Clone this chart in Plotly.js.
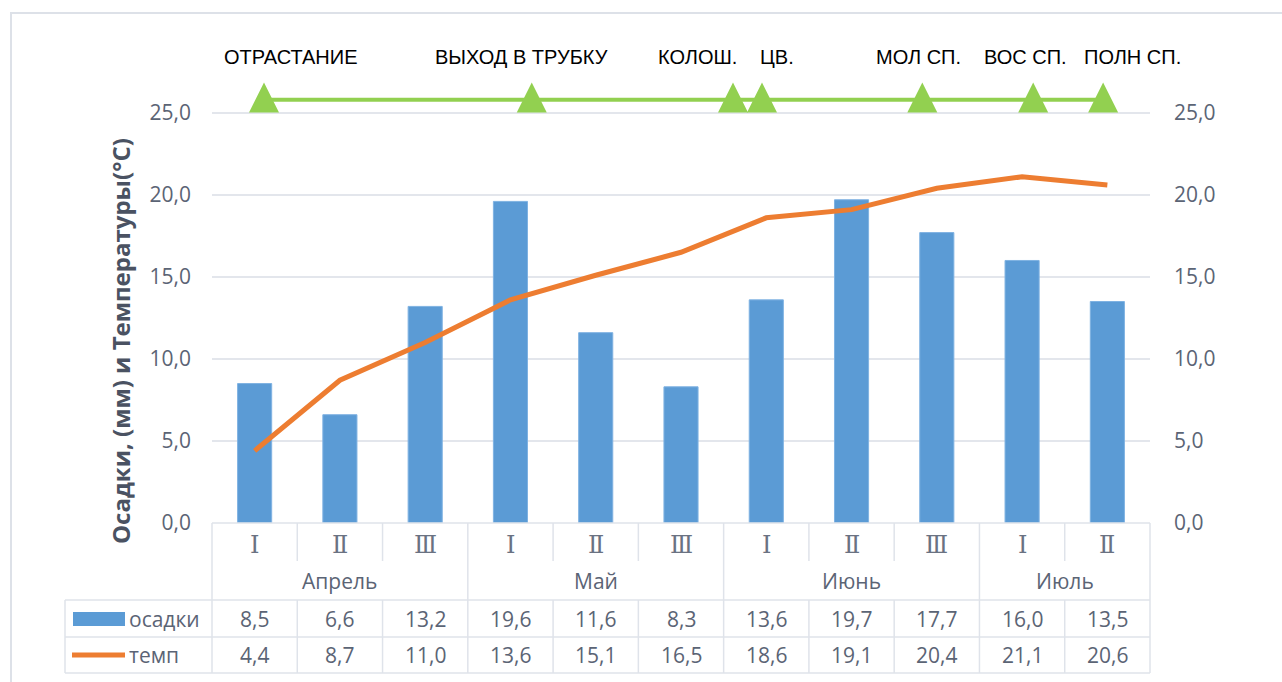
<!DOCTYPE html>
<html><head><meta charset="utf-8">
<script src="https://cdn.plot.ly/plotly-3.0.1.min.js"></script>
<style>html,body{margin:0;padding:0;background:#fff}#chart{width:1282px;height:682px}</style>
</head><body><div id="chart"></div>
<script>
// ---- data ----
const decades = ['Ⅰ','Ⅱ','Ⅲ','Ⅰ','Ⅱ','Ⅲ','Ⅰ','Ⅱ','Ⅲ','Ⅰ','Ⅱ'];
const months = ['Апрель','Май','Июнь','Июль'];
const monthSpans = [3,3,3,2];
const precip = [8.5,6.6,13.2,19.6,11.6,8.3,13.6,19.7,17.7,16.0,13.5];
const temp = [4.4,8.7,11.0,13.6,15.1,16.5,18.6,19.1,20.4,21.1,20.6];
const seriesNames = ['осадки','темп'];
const phaseNames = ['ОТРАСТАНИЕ','ВЫХОД В ТРУБКУ','КОЛОШ.','ЦВ.','МОЛ СП.','ВОС СП.','ПОЛН СП.'];
const phasePos = [0.11,3.25,5.61,5.95,7.83,9.13,9.95];
const phaseLabelPos = [0.43,3.13,5.19,6.13,7.78,9.04,10.30];
const phaseLineLevel = [25.8,25.8,25.8,25.8,25.8,25.8,25.8];
const phaseMarkLevel = [26.85,26.85,26.85,26.85,26.85,26.85,26.85];
const yTicks = [0,5,10,15,20,25];

// ---- layout helpers (pixel -> paper) ----
const W = 1282, H = 682;
const L = 212, R = 1150, T = 80, B = 523;
const px = p => (p - L) / (R - L);
const py = p => (B - p) / (B - T);
const fmt = v => v.toFixed(1).replace('.', ',');
const idx = decades.map((_, i) => i);
const grey = '#5b6475';
const lineCol = '#dfe3ea';
const baseFont = 'Open Sans, Noto Sans, sans-serif';

const traces = [
  {type:'bar', x: idx, y: precip, name: seriesNames[0], width: 0.4,
   marker:{color:'#5b9bd5', line:{color:'#7fb2e2', width:1}}, hoverinfo:'y'},
  {type:'scatter', mode:'lines', x: idx, y: temp, name: seriesNames[1],
   line:{color:'#ed7d31', width:5}, hoverinfo:'y'},
  {type:'scatter', mode:'lines', x: phasePos, y: phaseLineLevel, name:'фазы',
   line:{color:'#92d050', width:4}, cliponaxis:false, hoverinfo:'skip'},
  {type:'scatter', mode:'markers', x: phasePos, y: phaseMarkLevel, name:'фазы',
   marker:{symbol:'arrow-up', size:30, color:'#92d050', line:{width:0}}, cliponaxis:false, hoverinfo:'skip'},
  {type:'scatter', mode:'lines', x:[0], y:[0], yaxis:'y2', showlegend:false, hoverinfo:'skip', line:{width:0}, opacity:0}
];

const shapes = [];
const hline = (y, x0, x1) => shapes.push({type:'line', xref:'paper', yref:'paper', x0:px(x0), x1:px(x1), y0:py(y), y1:py(y), line:{color:lineCol, width:1.5}});
const vlineData = (xd, y0, y1) => shapes.push({type:'line', xref:'x', yref:'paper', x0:xd, x1:xd, y0:py(y0), y1:py(y1), line:{color:lineCol, width:1.5}});
const vlinePx = (x, y0, y1) => shapes.push({type:'line', xref:'paper', yref:'paper', x0:px(x), x1:px(x), y0:py(y0), y1:py(y1), line:{color:lineCol, width:1.5}});

// frame
shapes.push({type:'rect', xref:'paper', yref:'paper', x0:px(11), x1:px(1300), y0:py(13), y1:py(700), line:{color:'#dde1e8', width:2}});
// table horizontal lines
hline(523, 212, 1150);
hline(600, 65, 1150);
hline(637, 65, 1150);
hline(673, 65, 1150);
// outer verticals
vlinePx(212, 523, 673);
vlinePx(1150, 523, 673);
vlinePx(65, 600, 673);
// month boundaries and decade separators
const monthStarts = [];
let acc = 0;
monthSpans.forEach(s => { monthStarts.push(acc); acc += s; });
for (let i = 1; i < decades.length; i++) {
  if (monthStarts.includes(i)) vlineData(i - 0.5, 523, 673);
  else { vlineData(i - 0.5, 523, 561); vlineData(i - 0.5, 600, 673); }
}
// legend keys in table
shapes.push({type:'rect', xref:'paper', yref:'paper', x0:px(73), x1:px(125), y0:py(612), y1:py(626), fillcolor:'#5b9bd5', line:{width:0}});
shapes.push({type:'line', xref:'paper', yref:'paper', x0:px(72), x1:px(125), y0:py(655), y1:py(655), line:{color:'#ed7d31', width:5}});

const annotations = [];
const tf = (size, color) => ({family: baseFont, size: size, color: color || grey});
const ann = o => annotations.push(Object.assign({showarrow:false, xanchor:'center', yanchor:'middle'}, o));
decades.forEach((d, i) => {
  ann({xref:'x', yref:'paper', x:i, y:py(545), text:d, font:{family:'DejaVu Serif, serif', size:24, color:'#6a7282', weight:'normal'}});
  ann({xref:'x', yref:'paper', x:i, y:py(619), text:fmt(precip[i]), font:tf(21)});
  ann({xref:'x', yref:'paper', x:i, y:py(655), text:fmt(temp[i]), font:tf(21)});
});
months.forEach((m, k) => {
  ann({xref:'x', yref:'paper', x: monthStarts[k] + (monthSpans[k] - 1) / 2, y:py(581), text:m, font:tf(21)});
});
ann({xref:'paper', yref:'paper', x:px(127), y:py(619), xanchor:'left', text:seriesNames[0], font:tf(21)});
ann({xref:'paper', yref:'paper', x:px(127), y:py(655), xanchor:'left', text:seriesNames[1], font:tf(21)});
phaseNames.forEach((n, k) => {
  ann({xref:'x', yref:'paper', x:phaseLabelPos[k], y:py(57), text:n,
    font:{family:'Liberation Sans Narrow, Arial Narrow, sans-serif', size:20, color:'#000'}});
});
ann({xref:'paper', yref:'paper', x:px(120), y:py(341), text:'Осадки, (мм) и Температуры(°C)', textangle:-90,
  font:{family: baseFont, size:24, color:'#4a5262', weight:'bold'}});

const yTickText = yTicks.map(fmt);
const layout = {
  width: W, height: H,
  margin:{l: L, r: W - R, t: T, b: H - B},
  paper_bgcolor:'#fff', plot_bgcolor:'#fff',
  showlegend:false,
  xaxis:{range:[-0.5, 10.5], showticklabels:false, showgrid:false, zeroline:false, ticks:'', showline:false, fixedrange:true},
  yaxis:{range:[0, 27], tickvals:yTicks, ticktext:yTickText, showgrid:true, gridcolor:'#e3e6ec', gridwidth:1.5,
         zeroline:false, showline:false, ticks:'', ticklabelstandoff:20, tickfont:tf(21)},
  yaxis2:{range:[0, 27], overlaying:'y', side:'right', tickvals:yTicks, ticktext:yTickText, showgrid:false,
          zeroline:false, showline:false, ticks:'', ticklabelstandoff:23, tickfont:tf(21)},
  shapes: shapes,
  annotations: annotations
};
Plotly.newPlot('chart', traces, layout, {displayModeBar:false, staticPlot:true});
</script>
</body></html>
